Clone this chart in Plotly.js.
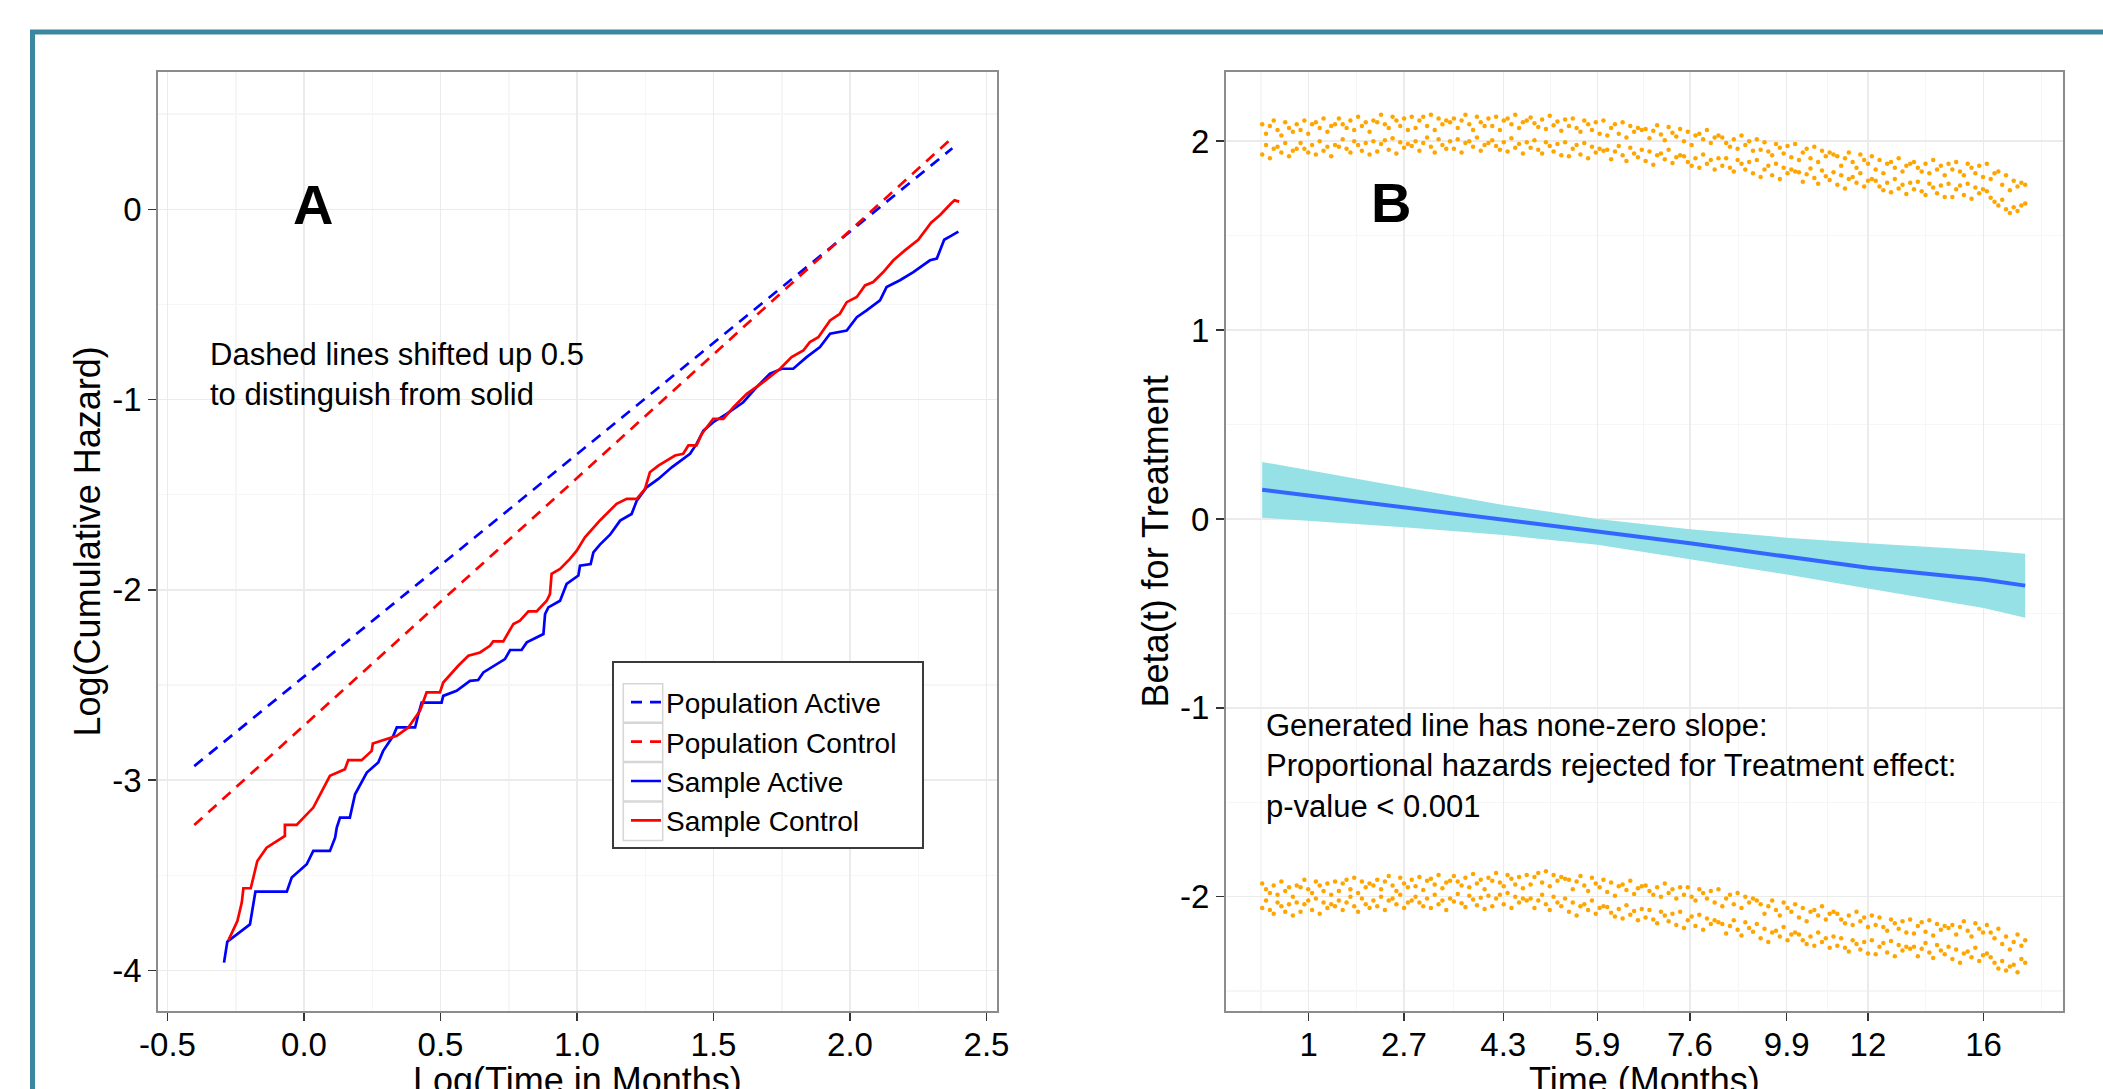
<!DOCTYPE html>
<html>
<head>
<meta charset="utf-8">
<script src="https://cdn.plot.ly/plotly-3.0.1.min.js"></script>
<style>html,body{margin:0;padding:0;background:#fff;}#chart{width:2103px;height:1089px;}</style>
</head>
<body>
<div id="chart"></div>
<script>
// ---------- Panel A data: log cumulative hazard vs log time ----------
const popTime = [-0.402, 2.375];
const popActive = [-2.926, 0.321];
const popControl = [-3.236, 0.376];

const sampleActiveTime = [-0.293,-0.281,-0.198,-0.178,-0.063,-0.045,0.010,0.034,0.095,0.114,0.120,0.132,0.168,0.187,0.230,0.272,0.290,0.327,0.340,0.407,0.419,0.431,0.504,0.510,0.559,0.608,0.638,0.657,0.736,0.755,0.797,0.816,0.877,0.883,0.895,0.938,0.962,1.005,1.011,1.050,1.060,1.084,1.121,1.158,1.200,1.219,1.255,1.298,1.347,1.414,1.438,1.463,1.499,1.548,1.609,1.658,1.707,1.750,1.792,1.841,1.890,1.927,1.988,2.025,2.061,2.110,2.134,2.183,2.232,2.293,2.318,2.330,2.345,2.370,2.397];
const sampleActiveHaz = [-3.959,-3.849,-3.758,-3.586,-3.586,-3.512,-3.442,-3.372,-3.372,-3.302,-3.249,-3.197,-3.197,-3.074,-2.960,-2.907,-2.846,-2.767,-2.723,-2.723,-2.653,-2.592,-2.592,-2.557,-2.530,-2.478,-2.474,-2.434,-2.364,-2.316,-2.316,-2.276,-2.232,-2.127,-2.092,-2.057,-1.969,-1.925,-1.873,-1.864,-1.803,-1.762,-1.710,-1.636,-1.601,-1.531,-1.461,-1.417,-1.356,-1.285,-1.233,-1.163,-1.119,-1.075,-1.014,-0.935,-0.864,-0.838,-0.838,-0.777,-0.724,-0.654,-0.637,-0.567,-0.531,-0.479,-0.409,-0.373,-0.330,-0.268,-0.259,-0.216,-0.160,-0.140,-0.117];

const sampleControlTime = [-0.277,-0.244,-0.228,-0.222,-0.195,-0.171,-0.137,-0.070,-0.070,-0.027,0.034,0.065,0.095,0.150,0.162,0.211,0.248,0.252,0.340,0.382,0.400,0.425,0.449,0.498,0.510,0.541,0.565,0.602,0.645,0.681,0.693,0.730,0.767,0.791,0.822,0.852,0.889,0.901,0.907,0.938,0.974,0.999,1.029,1.084,1.145,1.182,1.219,1.249,1.267,1.298,1.359,1.389,1.408,1.438,1.457,1.499,1.536,1.573,1.622,1.682,1.744,1.786,1.829,1.853,1.884,1.927,1.963,1.988,2.025,2.055,2.085,2.122,2.159,2.201,2.250,2.297,2.330,2.370,2.383,2.400];
const sampleControlHaz = [-3.842,-3.740,-3.643,-3.568,-3.568,-3.425,-3.355,-3.293,-3.235,-3.235,-3.144,-3.056,-2.977,-2.942,-2.895,-2.895,-2.846,-2.807,-2.767,-2.723,-2.688,-2.635,-2.539,-2.539,-2.487,-2.434,-2.399,-2.346,-2.329,-2.294,-2.271,-2.271,-2.179,-2.162,-2.113,-2.113,-2.057,-2.022,-1.916,-1.890,-1.837,-1.794,-1.724,-1.635,-1.548,-1.522,-1.522,-1.469,-1.382,-1.347,-1.294,-1.285,-1.241,-1.241,-1.180,-1.101,-1.101,-1.040,-0.970,-0.908,-0.838,-0.777,-0.742,-0.698,-0.672,-0.584,-0.549,-0.488,-0.461,-0.400,-0.382,-0.330,-0.268,-0.216,-0.160,-0.070,-0.030,0.030,0.047,0.040];

const seriesNames = ['Population Active','Population Control','Sample Active','Sample Control'];

// ---------- Panel B data: Beta(t) for Treatment on rank-transformed time ----------
const timeTickLabels = ['1','2.7','4.3','5.9','7.6','9.9','12','16'];
const timeTickRanks = [13.1, 37.96, 63.88, 88.43, 112.58, 137.8, 158.99, 189.13];

const smoothRank = [1, 37.96, 63.88, 88.43, 112.58, 137.8, 158.99, 189.13, 200];
const betaFit   = [0.155, 0.063, -0.004, -0.066, -0.129, -0.202, -0.258, -0.320, -0.353];
const betaUpper = [0.302, 0.166, 0.074, 0.000, -0.055, -0.099, -0.129, -0.166, -0.184];
const betaLower = [0.007, -0.044, -0.085, -0.136, -0.213, -0.294, -0.368, -0.471, -0.523];

const residUpperA = [2.09,2.04,2.08,2.11,2.06,2.03,2.10,2.07,2.05,2.09, 2.06,2.11,2.04,2.09,2.10,2.07,2.12,2.05,2.08,2.09, 2.12,2.09,2.07,2.11,2.06,2.13,2.08,2.10,2.05,2.11, 2.10,2.14,2.09,2.07,2.13,2.11,2.08,2.12,2.06,2.13, 2.07,2.11,2.13,2.08,2.14,2.06,2.12,2.09,2.11,2.10, 2.12,2.07,2.11,2.14,2.09,2.06,2.13,2.10,2.08,2.12, 2.08,2.13,2.06,2.11,2.12,2.09,2.14,2.07,2.10,2.11, 2.125,2.095,2.075,2.115,2.065,2.135,2.085,2.105,2.055,2.115, 2.08,2.12,2.07,2.05,2.11,2.09,2.06,2.10,2.04,2.11, 2.03,2.07,2.09,2.04,2.10,2.02,2.08,2.05,2.07,2.06, 2.065,2.015,2.055,2.085,2.035,2.005,2.075,2.045,2.025,2.065, 2.00,2.05,1.98,2.03,2.04,2.01,2.06,1.99,2.02,2.03, 2.02,1.99,1.97,2.01,1.96,2.03,1.98,2.00,1.95,2.01, 1.955,1.995,1.945,1.925,1.985,1.965,1.935,1.975,1.915,1.985, 1.90,1.94,1.96,1.91,1.97,1.89,1.95,1.92,1.94,1.93, 1.92,1.87,1.91,1.94,1.89,1.86,1.93,1.90,1.88,1.92, 1.85,1.90,1.83,1.88,1.89,1.86,1.91,1.84,1.87,1.88, 1.89,1.86,1.84,1.88,1.83,1.90,1.85,1.87,1.82,1.88, 1.85,1.89,1.84,1.82,1.88,1.86,1.83,1.87,1.81,1.88, 1.80,1.83,1.84,1.77,1.82,1.74,1.79,1.76,1.78,1.77];
const residUpperB = [1.93,1.98,1.91,1.96,1.97,1.94,1.99,1.92,1.95,1.96, 1.99,1.96,1.94,1.98,1.93,2.00,1.95,1.97,1.92,1.98, 1.97,2.01,1.96,1.94,2.00,1.98,1.95,1.99,1.93,2.00, 1.945,1.985,2.005,1.955,2.015,1.935,1.995,1.965,1.985,1.975, 2.00,1.95,1.99,2.02,1.97,1.94,2.01,1.98,1.96,2.00, 1.96,2.01,1.94,1.99,2.00,1.97,2.02,1.95,1.98,1.99, 2.005,1.975,1.955,1.995,1.945,2.015,1.965,1.985,1.935,1.995, 1.965,2.005,1.955,1.935,1.995,1.975,1.945,1.985,1.925,1.995, 1.92,1.96,1.98,1.93,1.99,1.91,1.97,1.94,1.96,1.95, 1.955,1.905,1.945,1.975,1.925,1.895,1.965,1.935,1.915,1.955, 1.895,1.945,1.875,1.925,1.935,1.905,1.955,1.885,1.915,1.925, 1.92,1.89,1.87,1.91,1.86,1.93,1.88,1.90,1.85,1.91, 1.87,1.91,1.86,1.84,1.90,1.88,1.85,1.89,1.83,1.90, 1.81,1.85,1.87,1.82,1.88,1.80,1.86,1.83,1.85,1.84, 1.835,1.785,1.825,1.855,1.805,1.775,1.845,1.815,1.795,1.835, 1.77,1.82,1.75,1.80,1.81,1.78,1.83,1.76,1.79,1.80, 1.79,1.76,1.74,1.78,1.73,1.80,1.75,1.77,1.72,1.78, 1.745,1.785,1.735,1.715,1.775,1.755,1.725,1.765,1.705,1.775, 1.705,1.745,1.765,1.715,1.775,1.695,1.755,1.725,1.745,1.735, 1.70,1.68,1.66,1.69,1.64,1.62,1.65,1.63,1.66,1.67];
const residLowerA = [-1.93,-1.96,-1.98,-1.94,-1.99,-1.92,-1.97,-1.95,-2.00,-1.94, -1.95,-1.91,-1.96,-1.98,-1.92,-1.94,-1.97,-1.93,-1.99,-1.92, -1.97,-1.93,-1.91,-1.96,-1.90,-1.98,-1.92,-1.95,-1.93,-1.94, -1.91,-1.96,-1.92,-1.89,-1.94,-1.97,-1.90,-1.93,-1.95,-1.91, -1.945,-1.895,-1.965,-1.915,-1.905,-1.935,-1.885,-1.955,-1.925,-1.915, -1.89,-1.92,-1.94,-1.90,-1.95,-1.88,-1.93,-1.91,-1.96,-1.90, -1.915,-1.875,-1.925,-1.945,-1.885,-1.905,-1.935,-1.895,-1.955,-1.885, -1.935,-1.895,-1.875,-1.925,-1.865,-1.945,-1.885,-1.915,-1.895,-1.905, -1.91,-1.96,-1.92,-1.89,-1.94,-1.97,-1.90,-1.93,-1.95,-1.91, -1.975,-1.925,-1.995,-1.945,-1.935,-1.965,-1.915,-1.985,-1.955,-1.945, -1.94,-1.97,-1.99,-1.95,-2.00,-1.93,-1.98,-1.96,-2.01,-1.95, -1.99,-1.95,-2.00,-2.02,-1.96,-1.98,-2.01,-1.97,-2.03,-1.96, -2.05,-2.01,-1.99,-2.04,-1.98,-2.06,-2.00,-2.03,-2.01,-2.02, -2.04,-2.09,-2.05,-2.02,-2.07,-2.10,-2.03,-2.06,-2.08,-2.04, -2.11,-2.06,-2.13,-2.08,-2.07,-2.10,-2.05,-2.12,-2.09,-2.08, -2.09,-2.12,-2.14,-2.10,-2.15,-2.08,-2.13,-2.11,-2.16,-2.10, -2.15,-2.11,-2.16,-2.18,-2.12,-2.14,-2.17,-2.13,-2.19,-2.12, -2.195,-2.155,-2.135,-2.185,-2.125,-2.205,-2.145,-2.175,-2.155,-2.165, -2.15,-2.20,-2.16,-2.13,-2.18,-2.21,-2.14,-2.17,-2.19,-2.15, -2.19,-2.22,-2.17,-2.25,-2.21,-2.28,-2.24,-2.20,-2.26,-2.23];
const residLowerB = [-2.06,-2.02,-2.07,-2.09,-2.03,-2.05,-2.08,-2.04,-2.10,-2.03, -2.08,-2.04,-2.02,-2.07,-2.01,-2.09,-2.03,-2.06,-2.04,-2.05, -2.02,-2.07,-2.03,-2.00,-2.05,-2.08,-2.01,-2.04,-2.06,-2.02, -2.05,-2.00,-2.07,-2.02,-2.01,-2.04,-1.99,-2.06,-2.03,-2.02, -2.00,-2.03,-2.05,-2.01,-2.06,-1.99,-2.04,-2.02,-2.07,-2.01, -2.025,-1.985,-2.035,-2.055,-1.995,-2.015,-2.045,-2.005,-2.065,-1.995, -2.05,-2.01,-1.99,-2.04,-1.98,-2.06,-2.00,-2.03,-2.01,-2.02, -2.01,-2.06,-2.02,-1.99,-2.04,-2.07,-2.00,-2.03,-2.05,-2.01, -2.08,-2.03,-2.10,-2.05,-2.04,-2.07,-2.02,-2.09,-2.06,-2.05, -2.055,-2.085,-2.105,-2.065,-2.115,-2.045,-2.095,-2.075,-2.125,-2.065, -2.11,-2.07,-2.12,-2.14,-2.08,-2.10,-2.13,-2.09,-2.15,-2.08, -2.165,-2.125,-2.105,-2.155,-2.095,-2.175,-2.115,-2.145,-2.125,-2.135, -2.145,-2.195,-2.155,-2.125,-2.175,-2.205,-2.135,-2.165,-2.185,-2.145, -2.22,-2.17,-2.24,-2.19,-2.18,-2.21,-2.16,-2.23,-2.20,-2.19, -2.20,-2.23,-2.25,-2.21,-2.26,-2.19,-2.24,-2.22,-2.27,-2.21, -2.26,-2.22,-2.27,-2.29,-2.23,-2.25,-2.28,-2.24,-2.30,-2.23, -2.305,-2.265,-2.245,-2.295,-2.235,-2.315,-2.255,-2.285,-2.265,-2.275, -2.265,-2.315,-2.275,-2.245,-2.295,-2.325,-2.255,-2.285,-2.305,-2.265, -2.33,-2.28,-2.35,-2.30,-2.29,-2.32,-2.27,-2.34,-2.31,-2.30, -2.32,-2.35,-2.38,-2.34,-2.39,-2.37,-2.36,-2.40,-2.33,-2.35];

const xTitles = ['Log(Time in Months)', 'Time (Months)'];
const yTitles = ['Log(Cumulative Hazard)', 'Beta(t) for Treatment'];

// ---------- Build figure ----------
const FONT = 'Liberation Sans, Arial, sans-serif';
const W = 2103, H = 1089;
const px = v => v / W;          // pixel -> paper x
const py = v => 1 - v / H;      // pixel -> paper y

const eventRank = residUpperA.map((_, i) => i + 1);

const traces = [];
const popColors = ['#0000FF', '#FF0000'];
traces.push({x: popTime, y: popActive, type: 'scatter', mode: 'lines', name: seriesNames[0],
  line: {color: popColors[0], width: 2.7, dash: '11px,8px'}, xaxis: 'x', yaxis: 'y'});
traces.push({x: popTime, y: popControl, type: 'scatter', mode: 'lines', name: seriesNames[1],
  line: {color: popColors[1], width: 2.7, dash: '11px,8px'}, xaxis: 'x', yaxis: 'y'});
traces.push({x: sampleActiveTime, y: sampleActiveHaz, type: 'scatter', mode: 'lines', name: seriesNames[2],
  line: {color: popColors[0], width: 2.7}, xaxis: 'x', yaxis: 'y'});
traces.push({x: sampleControlTime, y: sampleControlHaz, type: 'scatter', mode: 'lines', name: seriesNames[3],
  line: {color: popColors[1], width: 2.7}, xaxis: 'x', yaxis: 'y'});

// Panel B
traces.push({x: smoothRank.concat(smoothRank.slice().reverse()),
  y: betaUpper.concat(betaLower.slice().reverse()),
  type: 'scatter', mode: 'lines', fill: 'toself', fillcolor: '#95E1E6',
  line: {width: 0, color: '#95E1E6'}, showlegend: false, hoverinfo: 'skip', xaxis: 'x2', yaxis: 'y2'});
traces.push({x: smoothRank, y: betaFit, type: 'scatter', mode: 'lines', showlegend: false,
  line: {color: '#3366FF', width: 4}, xaxis: 'x2', yaxis: 'y2'});
[residUpperA, residUpperB, residLowerA, residLowerB].forEach(band => {
  traces.push({x: eventRank, y: band, type: 'scatter', mode: 'markers', showlegend: false,
    marker: {color: '#FFA500', size: 4.5, line: {width: 0}}, xaxis: 'x2', yaxis: 'y2'});
});

const minorB = [];
minorB.push(timeTickRanks[0] - (timeTickRanks[1] - timeTickRanks[0]) / 2);
for (let i = 0; i < timeTickRanks.length - 1; i++) minorB.push((timeTickRanks[i] + timeTickRanks[i + 1]) / 2);
minorB.push(timeTickRanks[timeTickRanks.length - 1] + (timeTickRanks[timeTickRanks.length - 1] - timeTickRanks[timeTickRanks.length - 2]) / 2);

function axisBase() {
  return {
    showline: true, linecolor: '#8c8c8c', linewidth: 2, mirror: true,
    ticks: 'outside', ticklen: 8, tickwidth: 1.5, tickcolor: '#333333',
    showgrid: true, gridcolor: '#ebebeb', gridwidth: 1.5, zeroline: false,
    tickfont: {family: FONT, size: 33, color: '#000'},
    automargin: false, fixedrange: true
  };
}
const minorStyle = {showgrid: true, gridcolor: '#f6f6f6', gridwidth: 1.5, ticks: ''};
const titleFont = {family: FONT, size: 36, color: '#000'};
const domY = [1 - 1011 / H, 1 - 71.7 / H];

const layout = {
  width: W, height: H,
  margin: {l: 0, r: 0, t: 0, b: 0},
  paper_bgcolor: '#ffffff', plot_bgcolor: '#ffffff',
  font: {family: FONT, color: '#000'},
  showlegend: true,
  xaxis: Object.assign(axisBase(), {
    domain: [px(158.3), px(996.6)], range: [-0.5337, 2.537], anchor: 'y',
    tickmode: 'array', tickvals: [-0.5, 0, 0.5, 1, 1.5, 2, 2.5],
    ticktext: ['-0.5', '0.0', '0.5', '1.0', '1.5', '2.0', '2.5'],
    ticklabelstandoff: -5,
    minor: Object.assign({tickmode: 'array', tickvals: [-0.25, 0.25, 0.75, 1.25, 1.75, 2.25]}, minorStyle)
  }),
  yaxis: Object.assign(axisBase(), {
    domain: domY, range: [-4.213, 0.723], anchor: 'x',
    tickmode: 'array', tickvals: [-4, -3, -2, -1, 0], ticktext: ['-4', '-3', '-2', '-1', '0'],
    minor: Object.assign({tickmode: 'array', tickvals: [-3.5, -2.5, -1.5, -0.5, 0.5]}, minorStyle),
    title: {text: yTitles[0], font: titleFont, standoff: 1}
  }),
  xaxis2: Object.assign(axisBase(), {
    domain: [px(1226), px(2063)], range: [-8.44, 209.86], anchor: 'y2',
    tickmode: 'array', tickvals: timeTickRanks, ticktext: timeTickLabels,
    ticklabelstandoff: -5,
    minor: Object.assign({tickmode: 'array', tickvals: minorB}, minorStyle)
  }),
  yaxis2: Object.assign(axisBase(), {
    domain: domY, range: [-2.605, 2.368], anchor: 'x2',
    tickmode: 'array', tickvals: [-2, -1, 0, 1, 2], ticktext: ['-2', '-1', '0', '1', '2'],
    minor: Object.assign({tickmode: 'array', tickvals: [-2.5, -1.5, -0.5, 0.5, 1.5]}, minorStyle),
    title: {text: yTitles[1], font: titleFont, standoff: 0}
  }),
  legend: {
    x: px(626), y: py(677.5), xanchor: 'left', yanchor: 'top',
    bgcolor: 'rgba(0,0,0,0)', borderwidth: 0,
    font: {family: FONT, size: 28, color: '#000'},
    itemwidth: 30, tracegroupgap: 0
  },
  shapes: [
    // outer teal frame
    {type: 'path', xref: 'paper', yref: 'paper', path: `M ${px(32.5)},-0.05 L ${px(32.5)},${py(32)} L 1.05,${py(32)}`,
      line: {color: '#3A889F', width: 5}, layer: 'above'},
    // legend box
    {type: 'rect', xref: 'paper', yref: 'paper', x0: px(613), x1: px(923), y0: py(848), y1: py(662),
      fillcolor: '#ffffff', line: {color: '#3a3a3a', width: 2}, layer: 'above'},
  ],
  annotations: [
    // x-axis titles (placed low so they are cut by the picture edge, as in the reference)
    {text: xTitles[0], xref: 'paper', yref: 'paper', x: px(577.5), y: py(1058), xanchor: 'center', yanchor: 'top',
      showarrow: false, font: titleFont},
    {text: xTitles[1], xref: 'paper', yref: 'paper', x: px(1644.5), y: py(1058), xanchor: 'center', yanchor: 'top',
      showarrow: false, font: titleFont},
    {text: '<b>A</b>', xref: 'paper', yref: 'paper', x: px(312.8), y: py(205), xanchor: 'center', yanchor: 'middle',
      showarrow: false, font: {family: FONT, size: 56, color: '#000'}},
    {text: '<b>B</b>', xref: 'paper', yref: 'paper', x: px(1391), y: py(203), xanchor: 'center', yanchor: 'middle',
      showarrow: false, font: {family: FONT, size: 56, color: '#000'}},
    {text: 'Dashed lines shifted up 0.5<br>to distinguish from solid', xref: 'paper', yref: 'paper',
      x: px(208), y: py(374), xanchor: 'left', yanchor: 'middle', align: 'left', showarrow: false,
      font: {family: FONT, size: 31, color: '#000'}},
    {text: 'Generated line has none-zero slope:<br>Proportional hazards rejected for Treatment effect:<br>p-value < 0.001',
      xref: 'paper', yref: 'paper', x: px(1263.6), y: py(766), xanchor: 'left', yanchor: 'middle', align: 'left',
      showarrow: false, font: {family: FONT, size: 31, color: '#000'}}
  ]
};
// legend key boxes (centred on the legend rows)
[703, 742.4, 781.8, 821.2].forEach(c => {
  layout.shapes.push({type: 'rect', xref: 'paper', yref: 'paper', x0: px(623.3), x1: px(662.7), y0: py(c + 19.2), y1: py(c - 19.2),
    fillcolor: '#ffffff', line: {color: '#d6d6d6', width: 1.5}, layer: 'above'});
});

Plotly.newPlot('chart', traces, layout, {displayModeBar: false, staticPlot: true});
</script>
</body>
</html>
